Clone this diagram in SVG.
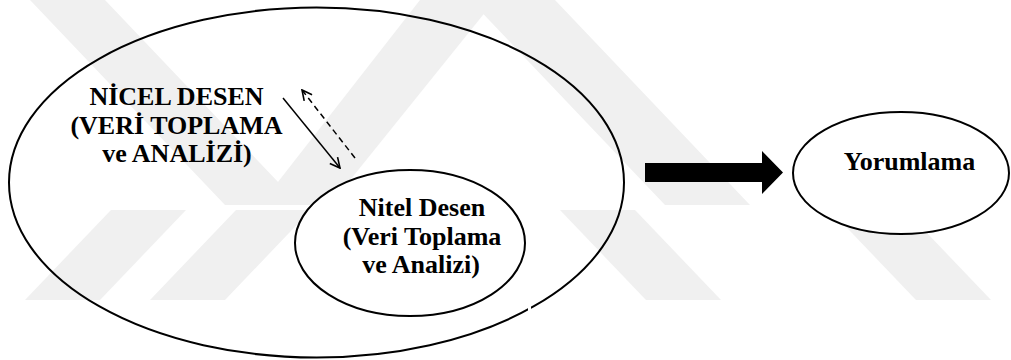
<svg xmlns="http://www.w3.org/2000/svg" width="1011" height="360" viewBox="0 0 1011 360">
  <defs>
    <style>
      .shape { fill: none; stroke: #000; stroke-width: 2; }
      .filled { fill: #fff; }
      .band { fill: #f0f0f0; }
      .label { font-family: "Liberation Serif", "Times New Roman", serif; font-weight: bold; font-size: 26px; fill: #000; text-anchor: middle; }
      .link { stroke: #000; stroke-width: 1.5; fill: none; }
      .dashed { stroke-dasharray: 6 4; }
    </style>
    <marker id="openHead" viewBox="0 0 12 12" refX="11" refY="6" markerWidth="12" markerHeight="12" markerUnits="userSpaceOnUse" orient="auto">
      <path d="M1,1 L11,6 L1,11" fill="none" stroke="#000" stroke-width="1.6"/>
    </marker>
  </defs>

  <rect width="1011" height="360" fill="#fff"/>

  <!-- faint background stripes -->
  <g id="background-stripes">
    <polygon class="band" points="30,0 105,0 300,205 225,205"/>
    <polygon class="band" points="260,205 330,205 495,0 420,0"/>
    <polygon class="band" points="470,0 555,0 750,205 665,205"/>
    <polygon class="band" points="25,300 100,300 186,210 111,210"/>
    <polygon class="band" points="150,300 225,300 311,210 236,210"/>
    <polygon class="band" points="560,210 635,210 721,300 646,300"/>
    <polygon class="band" points="830,210 905,210 991,300 916,300"/>
  </g>

  <!-- outer design: quantitative -->
  <g id="nicel-desen">
    <ellipse class="shape" cx="316.5" cy="182.5" rx="307.5" ry="175"/>
    <!-- short break in the outline -->
    <rect x="528" y="303" width="3" height="11" fill="#fff"/>
    <text class="label" x="176.5" y="105">NİCEL DESEN</text>
    <text class="label" x="176.5" y="133.5">(VERİ TOPLAMA</text>
    <text class="label" x="177" y="162">ve ANALİZİ)</text>
  </g>

  <!-- embedded design: qualitative -->
  <g id="nitel-desen">
    <ellipse class="shape filled" cx="410" cy="243" rx="115" ry="73"/>
    <text class="label" x="422" y="216">Nitel Desen</text>
    <text class="label" x="422" y="245">(Veri Toplama</text>
    <text class="label" x="421" y="273">ve Analizi)</text>
  </g>

  <!-- interpretation -->
  <g id="yorumlama">
    <ellipse class="shape filled" cx="901" cy="173" rx="108" ry="61"/>
    <text class="label" x="909.5" y="170">Yorumlama</text>
  </g>

  <g id="connectors">
    <line class="link" x1="283" y1="98" x2="340" y2="168" marker-end="url(#openHead)"/>
    <line class="link dashed" x1="355" y1="158" x2="302" y2="90" marker-end="url(#openHead)"/>
    <polygon points="645,163 762,163 762,151 783,172.5 762,194 762,182 645,182" fill="#000"/>
  </g>
</svg>
